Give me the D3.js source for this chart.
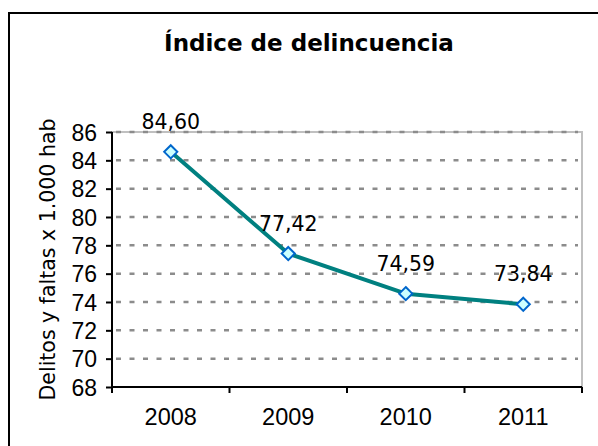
<!DOCTYPE html>
<html>
<head>
<meta charset="utf-8">
<script src="https://cdn.jsdelivr.net/npm/d3@7"></script>
<style>
  body { margin: 0; background: #fff; }
  svg { display: block; font-family: "DejaVu Sans", Verdana, sans-serif; }
  .tick text { fill: #000; }
</style>
</head>
<body>
<svg id="grafico"></svg>
<script>
//Datos del gráfico
var anios = ['2008', '2009', '2010', '2011'];
var indice = [84.60, 77.42, 74.59, 73.84];
var ticksY = [68, 70, 72, 74, 76, 78, 80, 82, 84, 86];

var titulo = 'Índice de delincuencia';
var tituloY = 'Delitos y faltas x 1.000 hab';

var ancho = 598, alto = 446;

var svg = d3.select('#grafico')
            .attr('width', ancho)
            .attr('height', alto);

//Marco exterior (cortado por la derecha y por abajo)
svg.append('rect')
   .attr('x', 9)
   .attr('y', 13)
   .attr('width', 620)
   .attr('height', 460)
   .attr('fill', '#fff')
   .attr('stroke', '#000')
   .attr('stroke-width', 2);

//Área de trazado
var margen = { izquierda: 112, derecha: 16, superior: 132, inferior: 59 };
var anchoPlot = ancho - margen.izquierda - margen.derecha;
var altoPlot = alto - margen.superior - margen.inferior;

var plot = svg.append('g')
              .attr('transform', 'translate(' + margen.izquierda + ',' + margen.superior + ')');

//Escalas
var x = d3.scaleBand()
          .domain(anios)
          .range([0, anchoPlot])
          .padding(0);
var y = d3.scaleLinear()
          .domain([68, 86])
          .range([altoPlot, 0]);

//Borde gris del área de trazado
plot.append('rect')
    .attr('x', 0)
    .attr('y', 0)
    .attr('width', anchoPlot)
    .attr('height', altoPlot)
    .attr('fill', 'none')
    .attr('stroke', '#c0c0c0')
    .attr('stroke-width', 2);

//Líneas de cuadrícula punteadas
plot.selectAll('.grade')
    .data(ticksY.filter(d => d > 68))
    .enter()
    .append('line')
    .classed('grade', true)
    .attr('x1', 4)
    .attr('x2', anchoPlot - 4)
    .attr('y1', d => y(d))
    .attr('y2', d => y(d))
    .attr('stroke', '#8c8c8c')
    .attr('stroke-width', 2.5)
    .attr('stroke-dasharray', '5,8.5');

//Ejes
var ejeX = d3.axisBottom(x).tickSize(0).tickPadding(0);
var gX = plot.append('g')
             .attr('transform', 'translate(0,' + altoPlot + ')')
             .call(ejeX);
gX.select('.domain').remove();
gX.selectAll('.tick text')
  .attr('dy', 0)
  .attr('y', 38)
  .style('font-size', '23.5px');

//Marcas de separación entre categorías
plot.selectAll('.marcaX')
    .data(anios.concat(['fin']))
    .enter()
    .append('line')
    .classed('marcaX', true)
    .attr('x1', (d, i) => i * x.bandwidth())
    .attr('x2', (d, i) => i * x.bandwidth())
    .attr('y1', altoPlot)
    .attr('y2', altoPlot + 6)
    .attr('stroke', '#000')
    .attr('stroke-width', 2);

plot.append('line')
    .attr('x1', 0)
    .attr('x2', anchoPlot)
    .attr('y1', altoPlot)
    .attr('y2', altoPlot)
    .attr('stroke', '#000')
    .attr('stroke-width', 2);

var ejeY = d3.axisLeft(y).tickValues(ticksY).tickSize(6).tickPadding(9);
var gY = plot.append('g').call(ejeY);
gY.select('.domain').attr('stroke', '#000').attr('stroke-width', 2).attr('d', 'M0,' + altoPlot + 'V0');
gY.selectAll('.tick line').attr('stroke', '#000').attr('stroke-width', 2);
gY.selectAll('.tick text')
  .attr('dy', '0.36em')
  .style('font-size', '23px');

//Títulos
svg.append('text')
   .attr('x', 309)
   .attr('y', 51)
   .attr('text-anchor', 'middle')
   .style('font-size', '23px')
   .style('font-weight', 'bold')
   .text(titulo);

svg.append('text')
   .attr('transform', 'translate(55,' + (margen.superior + altoPlot / 2) + ') rotate(-90)')
   .attr('text-anchor', 'middle')
   .style('font-size', '20.5px')
   .text(tituloY);

//Serie
var datos = anios.map((a, i) => ({ chave: a, valor: indice[i] }));
var cx = d => x(d.chave) + x.bandwidth() / 2;

plot.append('path')
    .datum(datos)
    .attr('d', d3.line().x(cx).y(d => y(d.valor)))
    .attr('fill', 'none')
    .attr('stroke', '#008080')
    .attr('stroke-width', 4)
    .attr('stroke-linejoin', 'round');

plot.selectAll('.marcador')
    .data(datos)
    .enter()
    .append('path')
    .classed('marcador', true)
    .attr('d', d3.symbol().type(d3.symbolDiamond2).size(110))
    .attr('transform', d => 'translate(' + cx(d) + ',' + y(d.valor) + ')')
    .attr('fill', '#ccffff')
    .attr('stroke', '#0066cc')
    .attr('stroke-width', 2);

//Rótulos de datos
plot.selectAll('.rotulo')
    .data(datos)
    .enter()
    .append('text')
    .classed('rotulo', true)
    .attr('x', cx)
    .attr('y', d => y(d.valor) - 23)
    .attr('text-anchor', 'middle')
    .style('font-size', '20.5px')
    .text(d => d3.format('.2f')(d.valor).replace('.', ','));
</script>
</body>
</html>
